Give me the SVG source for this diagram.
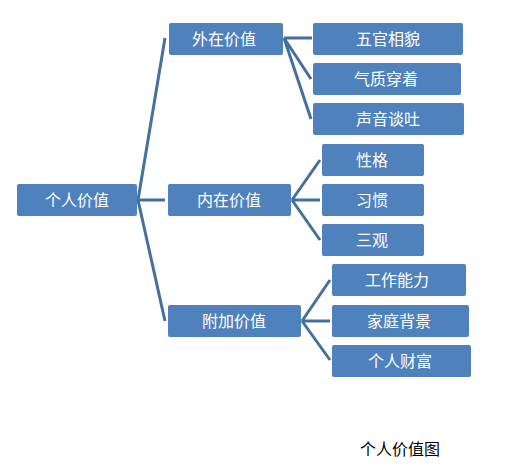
<svg xmlns="http://www.w3.org/2000/svg" width="512" height="467" viewBox="0 0 512 467">
<style>
.box{fill:#4F81BD;}
.t{fill:#fff;font-family:"Noto Sans CJK SC","Liberation Sans",sans-serif;font-size:16px;text-anchor:middle;dominant-baseline:central;}
.c{stroke:#43709F;stroke-width:3;fill:none;stroke-linejoin:miter;}
.cap{fill:#000;font-family:"Noto Sans CJK SC","Liberation Sans",sans-serif;font-size:16px;text-anchor:middle;dominant-baseline:central;}
</style>
<rect width="512" height="467" fill="#fff"/>
<g id="connectors">
<path class="c" d="M165,38 L138,200 L165,321 M138,200 L165,200"/>
<path class="c" d="M284,38 L312,38 M284,38 L311,79 M284,38 L311,119"/>
<path class="c" d="M292,200 L320,160 M292,200 L320,200 M292,200 L320,240"/>
<path class="c" d="M302,321 L330,280 M302,321 L330,321 M302,321 L330,360"/>
</g>
<g id="root"><rect class="box" x="17" y="184" width="120" height="32" rx="2"/><text class="t" x="77" y="199">个人价值</text></g>
<g id="outer"><rect class="box" x="169" y="23" width="114" height="32" rx="2"/><text class="t" x="224" y="38">外在价值</text></g>
<g id="inner"><rect class="box" x="168" y="184" width="123" height="32" rx="2"/><text class="t" x="229" y="199">内在价值</text></g>
<g id="extra"><rect class="box" x="168" y="305" width="133" height="32" rx="2"/><text class="t" x="234" y="320">附加价值</text></g>
<g id="face"><rect class="box" x="313" y="23" width="150" height="32" rx="2"/><text class="t" x="388" y="38">五官相貌</text></g>
<g id="temper"><rect class="box" x="313" y="63" width="148" height="32" rx="2"/><text class="t" x="386" y="78">气质穿着</text></g>
<g id="voice"><rect class="box" x="313" y="103" width="151" height="32" rx="2"/><text class="t" x="388" y="118">声音谈吐</text></g>
<g id="character"><rect class="box" x="322" y="144" width="102" height="32" rx="2"/><text class="t" x="372" y="159">性格</text></g>
<g id="habit"><rect class="box" x="322" y="184" width="102" height="32" rx="2"/><text class="t" x="372" y="199">习惯</text></g>
<g id="views"><rect class="box" x="322" y="224" width="102" height="32" rx="2"/><text class="t" x="372" y="239">三观</text></g>
<g id="work"><rect class="box" x="332" y="264" width="134" height="32" rx="2"/><text class="t" x="397" y="279">工作能力</text></g>
<g id="family"><rect class="box" x="332" y="305" width="137" height="32" rx="2"/><text class="t" x="399" y="320">家庭背景</text></g>
<g id="wealth"><rect class="box" x="332" y="345" width="139" height="32" rx="2"/><text class="t" x="400" y="360">个人财富</text></g>
<text class="cap" x="400" y="448">个人价值图</text>
</svg>
